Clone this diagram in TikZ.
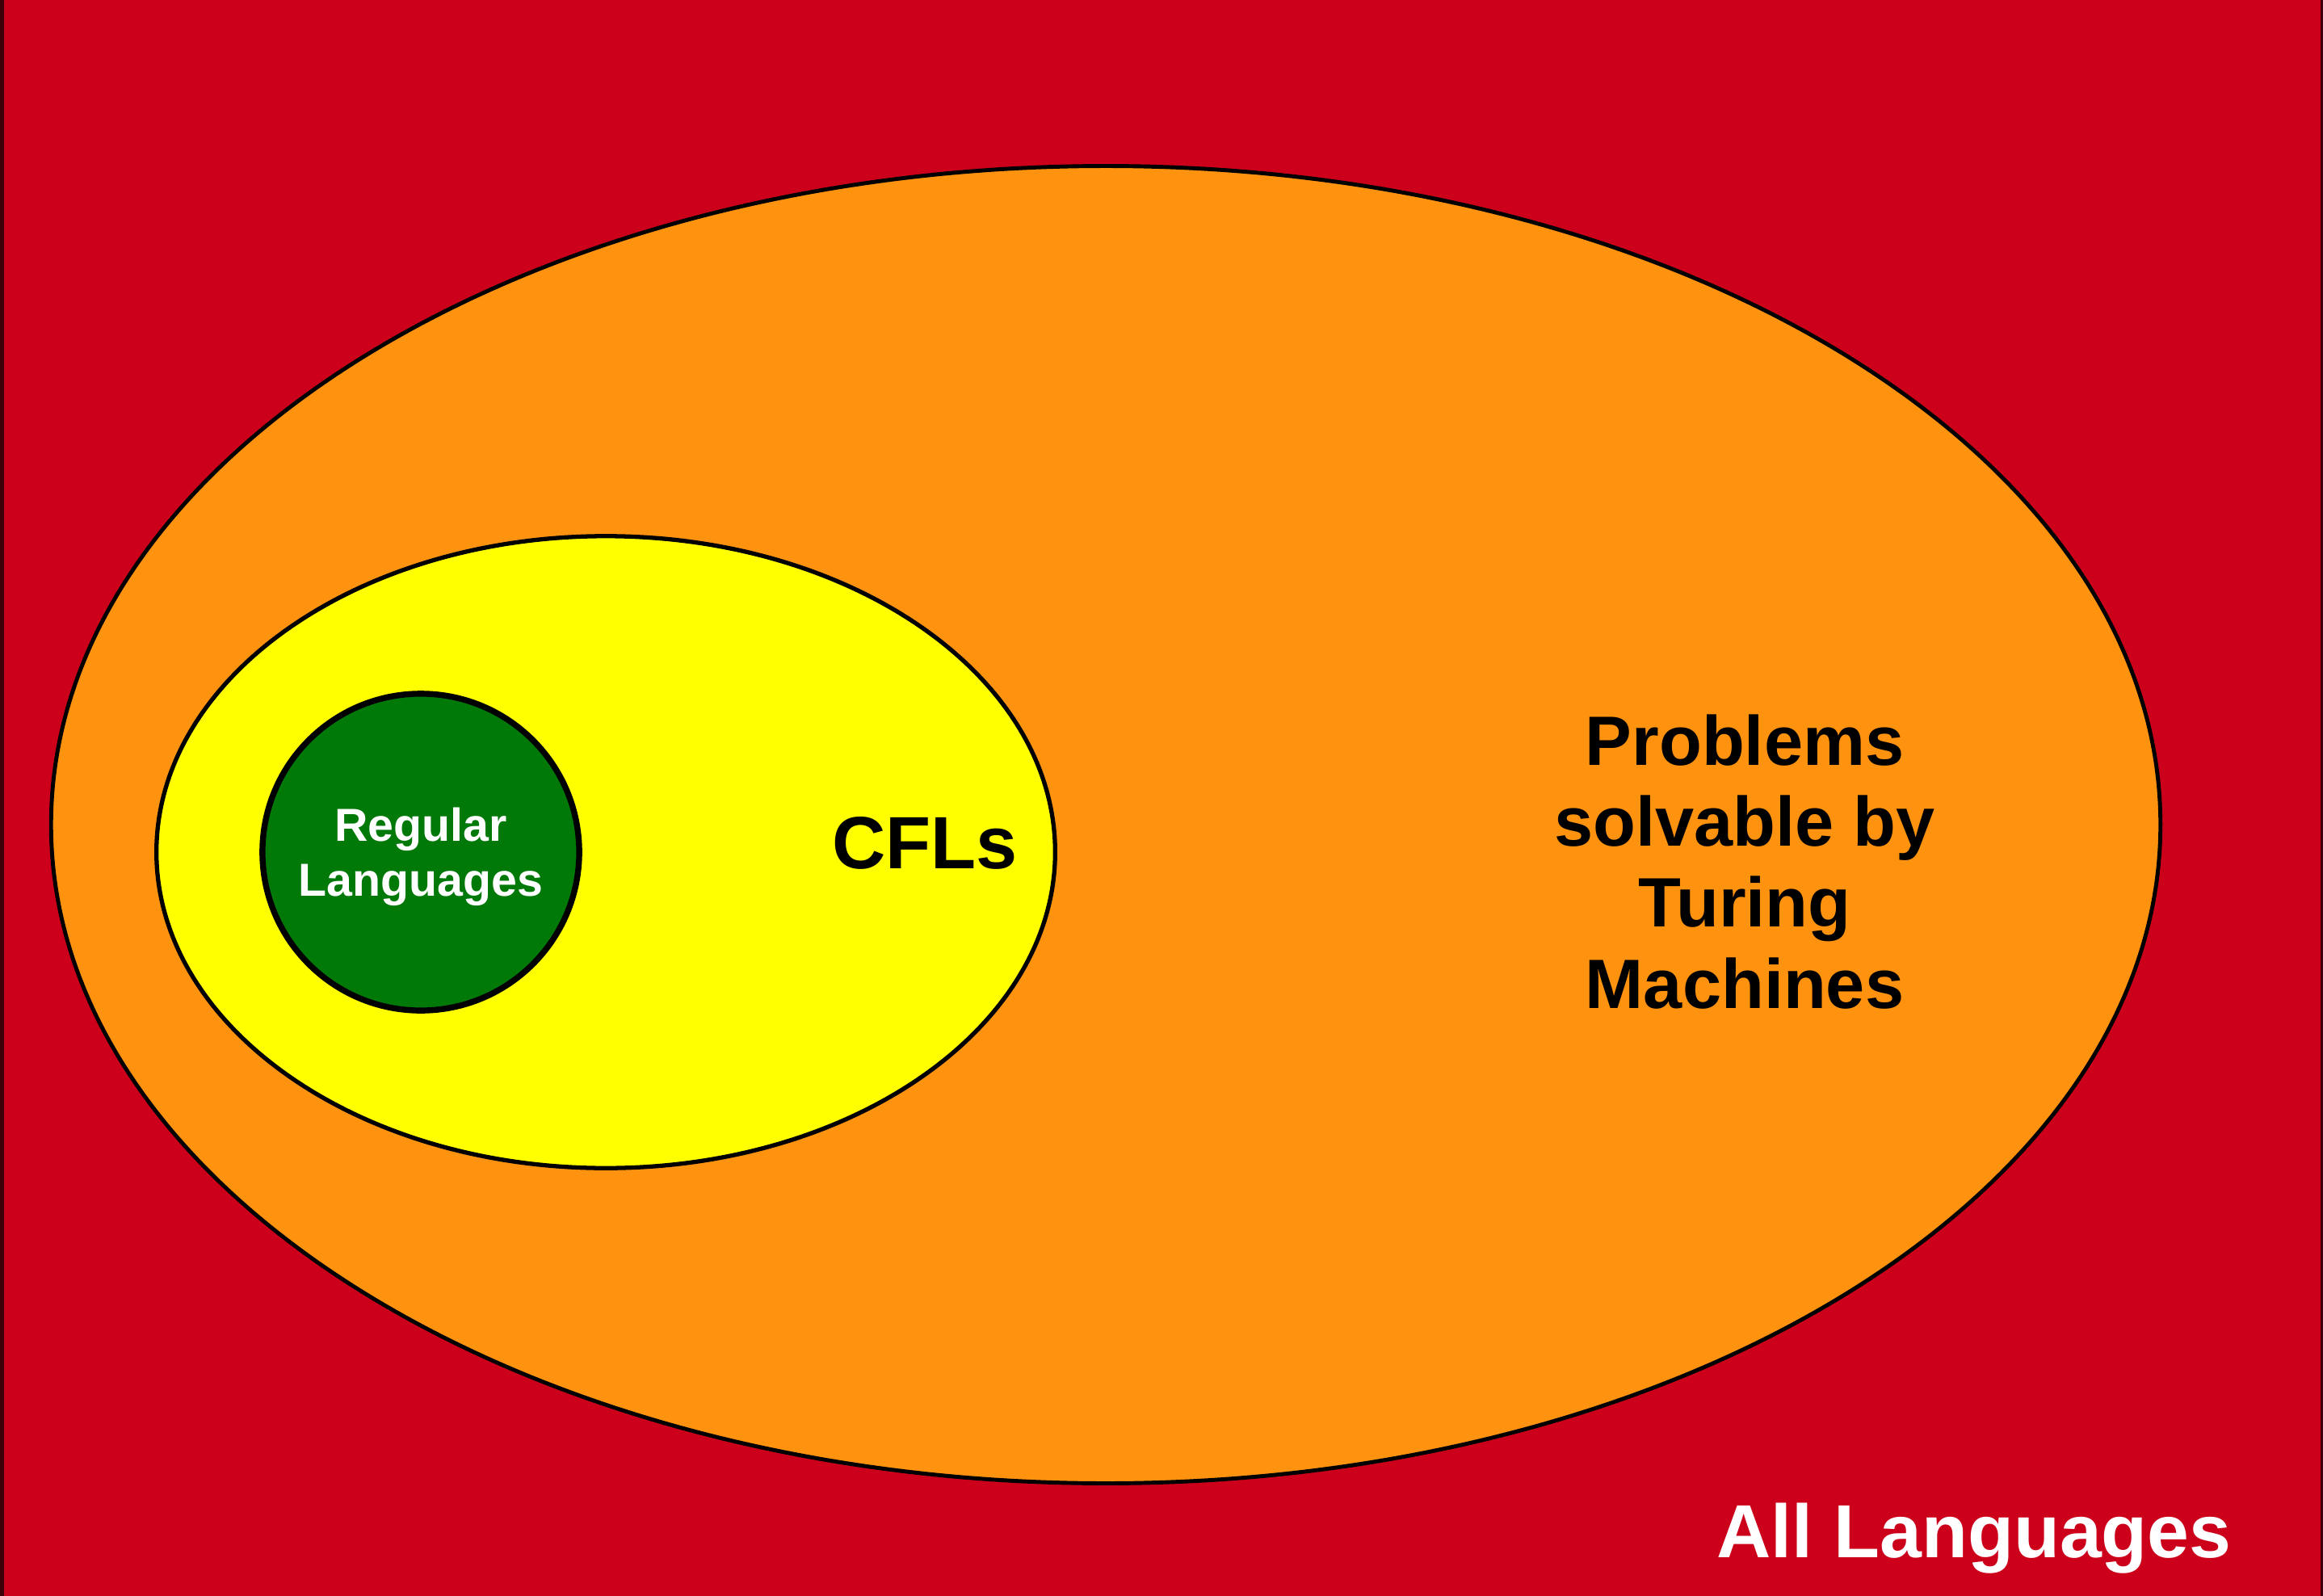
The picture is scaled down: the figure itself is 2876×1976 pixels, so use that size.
\documentclass[tikz,border=0pt]{standalone}
\usepackage{fontspec}
\setmainfont{Liberation Sans}
\usetikzlibrary{shapes.geometric}
\definecolor{bgred}{RGB}{204,0,26}
\definecolor{tmorange}{RGB}{255,147,15}
\definecolor{cflyellow}{RGB}{255,255,0}
\definecolor{reggreen}{RGB}{0,121,8}
\tikzset{
  region/.style={ellipse, draw=black, inner sep=0pt},
  lbl/.style={font=\bfseries, inner sep=0pt, align=center, anchor=base},
}
\begin{document}
\begin{tikzpicture}[x=0.01cm, y=-0.01cm]
\useasboundingbox (0,0) rectangle (2876,1976);
\fill[bgred] (0,0) rectangle (2876,1976);
\fill[black!70!bgred] (0,0) rectangle (5,1976);
\fill[black!70!bgred] (2873,0) rectangle (2876,1976);
\node[region, fill=tmorange, line width=1.4pt, minimum width=26.10cm, minimum height=16.30cm] (tm) at (1369,1021) {};
\node[region, fill=cflyellow, line width=1.5pt, minimum width=11.12cm, minimum height=7.82cm] (cfl) at (750,1055) {};
\node[circle, draw=black, fill=reggreen, line width=2.1pt, inner sep=0pt, minimum size=3.92cm] (reg) at (521,1055) {};
\node[lbl, text=white, font=\bfseries\fontsize{16.3}{19.1}\selectfont] (regtxt) at (521,1109) {Regular\\Languages};
\node[lbl, font=\bfseries\fontsize{26.1}{31}\selectfont] (cfltxt) at (1145,1075) {CFLs};
\node[lbl, font=\bfseries\fontsize{24.6}{28.5}\selectfont] (tmtxt) at (2160,1248) {Problems\\solvable by\\Turing\\Machines};
\node[lbl, text=white, font=\bfseries\fontsize{26.5}{31}\selectfont] (alltxt) at (2444,1928) {All Languages};
\end{tikzpicture}
\end{document}
